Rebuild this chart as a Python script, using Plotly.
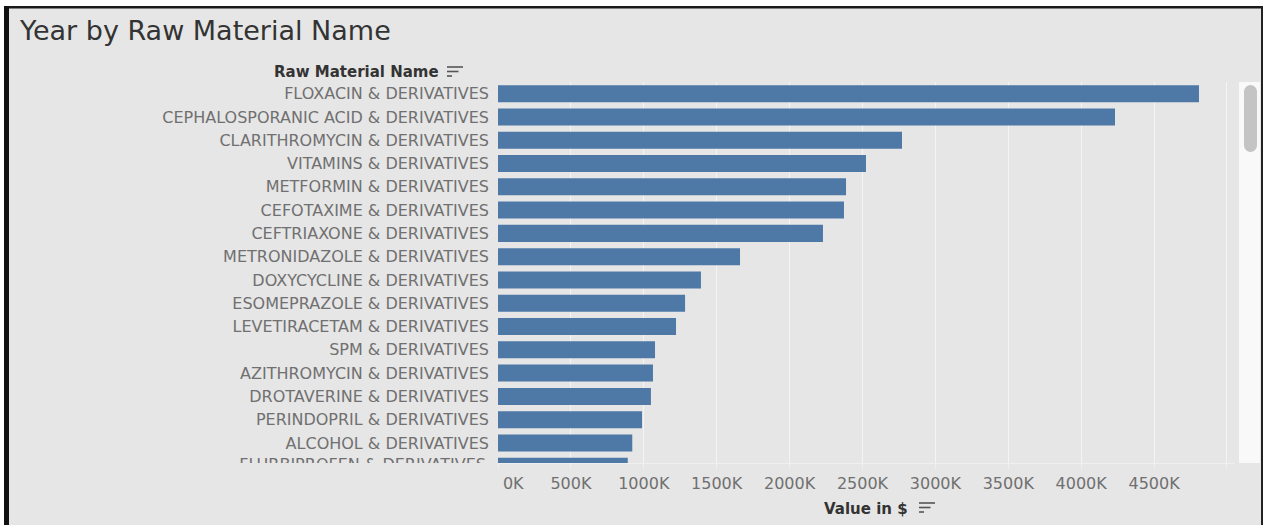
import plotly.graph_objects as go

# Raw material import values (USD), sorted by value descending
materials = [
    "FLOXACIN & DERIVATIVES",
    "CEPHALOSPORANIC ACID & DERIVATIVES",
    "CLARITHROMYCIN & DERIVATIVES",
    "VITAMINS & DERIVATIVES",
    "METFORMIN & DERIVATIVES",
    "CEFOTAXIME & DERIVATIVES",
    "CEFTRIAXONE & DERIVATIVES",
    "METRONIDAZOLE & DERIVATIVES",
    "DOXYCYCLINE & DERIVATIVES",
    "ESOMEPRAZOLE & DERIVATIVES",
    "LEVETIRACETAM & DERIVATIVES",
    "SPM & DERIVATIVES",
    "AZITHROMYCIN & DERIVATIVES",
    "DROTAVERINE & DERIVATIVES",
    "PERINDOPRIL & DERIVATIVES",
    "ALCOHOL & DERIVATIVES",
    "FLURBIPROFEN & DERIVATIVES",
]
values = [
    4808000, 4232000, 2771000, 2524000, 2387000, 2373000, 2229000, 1660000,
    1392000, 1283000, 1221000, 1077000, 1063000, 1049000, 988000, 921000,
    890000,
]
tick_values = [0, 500000, 1000000, 1500000, 2000000, 2500000, 3000000,
               3500000, 4000000, 4500000, 5000000]
# the first label is nudged right so it starts inside the pane
tick_labels = ["\u00a0" * 6 + "0K", "500K", "1000K", "1500K", "2000K",
               "2500K", "3000K", "3500K", "4000K", "4500K", ""]

W, H = 1263, 525
FONT = "DejaVu Sans"
BG = "#e6e6e6"
BAR = "#4e79a7"
LABEL = "#707070"
LABEL_SIZE = 16


def px(x):
    return x / W


def py(y):
    return 1 - y / H


# visible window of the scrolling list (last row is cut by the pane edge)
y_range = [15.86, -0.5]
plot_top, plot_bottom = 82, 463
x_left, x_right = 498, 1235

fig = go.Figure()

fig.add_trace(go.Bar(
    x=values,
    y=materials,
    orientation="h",
    marker=dict(color=BAR, line=dict(width=0)),
    hoverinfo="x+y",
    xaxis="x", yaxis="y",
))

# row labels for the visible rows come from the y axis; the partially
# scrolled-out row is drawn as clipped text in the label column
fig.add_trace(go.Scatter(
    x=[486] * len(materials[16:]),
    y=materials[16:],
    mode="text",
    text=materials[16:],
    textposition="middle left",
    textfont=dict(family=FONT, size=LABEL_SIZE, color=LABEL),
    cliponaxis=True,
    hoverinfo="skip",
    xaxis="x2", yaxis="y2",
    showlegend=False,
))

fig.update_layout(
    width=W, height=H, autosize=False,
    margin=dict(l=0, r=0, t=0, b=0),
    paper_bgcolor=BG, plot_bgcolor=BG,
    showlegend=False,
    bargap=0.27,
    xaxis=dict(
        domain=[px(x_left), px(x_right)],
        range=[0, 5055000],
        tickvals=tick_values, ticktext=tick_labels,
        showgrid=True, gridcolor="#f4f4f4", gridwidth=1,
        zeroline=False,
        showline=True, linecolor="#f0f0f0", linewidth=1,
        ticks="outside", ticklen=5, tickcolor="#f0f0f0",
        ticklabelstandoff=1,
        tickfont=dict(family=FONT, size=LABEL_SIZE, color=LABEL),
        anchor="y", automargin=False, fixedrange=True,
    ),
    yaxis=dict(
        domain=[py(plot_bottom), py(plot_top)],
        type="category", categoryorder="array", categoryarray=materials,
        range=y_range,
        showgrid=False, zeroline=False, showline=False,
        ticks="", ticklabelstandoff=8,
        tickfont=dict(family=FONT, size=LABEL_SIZE, color=LABEL),
        anchor="x", automargin=False, fixedrange=True,
    ),
    xaxis2=dict(
        domain=[0, px(x_left)], range=[0, x_left],
        visible=False, anchor="y2", fixedrange=True,
    ),
    yaxis2=dict(
        domain=[py(plot_bottom), py(plot_top)],
        type="category", categoryorder="array", categoryarray=materials,
        range=y_range, visible=False, anchor="x2", fixedrange=True,
    ),
)

shapes = []


def rect(x0, y0, x1, y1, color, layer="above"):
    shapes.append(dict(type="rect", xref="paper", yref="paper",
                       x0=px(x0), x1=px(x1), y0=py(y1), y1=py(y0),
                       fillcolor=color, line=dict(width=0), layer=layer))


def circle(x0, y0, x1, y1, color):
    shapes.append(dict(type="circle", xref="paper", yref="paper",
                       x0=px(x0), x1=px(x1), y0=py(y1), y1=py(y0),
                       fillcolor=color, line=dict(width=0), layer="above"))


def hline(x0, x1, y, color="#555555", width=1.6):
    shapes.append(dict(type="line", xref="paper", yref="paper",
                       x0=px(x0), x1=px(x1), y0=py(y), y1=py(y),
                       line=dict(color=color, width=width), layer="above"))


# sheet frame
rect(0, 0, W, 6, "#ffffff")
rect(0, 0, 4, H, "#ffffff")
rect(4, 6, W, 8.5, "#1a1a1a")
rect(4, 6, 9, H, "#111111")
rect(1261, 6, W, H, "#222222")

# vertical scrollbar
rect(1239, plot_top, 1260, plot_bottom, "#f9f9f9")
rect(1244, 91.5, 1257, 145.5, "#c4c4c4")
circle(1244, 85, 1257, 98, "#c4c4c4")
circle(1244, 139, 1257, 152, "#c4c4c4")


def sort_icon(x, y):
    hline(x, x + 16, y)
    hline(x, x + 11.5, y + 4.5)
    hline(x, x + 5, y + 9)


sort_icon(447, 67)
sort_icon(919, 503)

fig.update_layout(shapes=shapes)

annotations = [
    dict(text="Year by Raw Material Name", x=px(17), y=py(31),
         xanchor="left", yanchor="middle",
         font=dict(family=FONT, size=27, color="#333333")),
    dict(text="<b>Raw Material Name</b>", x=px(441), y=py(72),
         xanchor="right", yanchor="middle",
         font=dict(family=FONT, size=15, color="#333333")),
    dict(text="<b>Value in $</b>", x=px(910), y=py(509),
         xanchor="right", yanchor="middle",
         font=dict(family=FONT, size=15, color="#333333")),
]
for a in annotations:
    a.update(xref="paper", yref="paper", showarrow=False)
fig.update_layout(annotations=annotations)

fig.write_html("out.html", config={"displayModeBar": False})
